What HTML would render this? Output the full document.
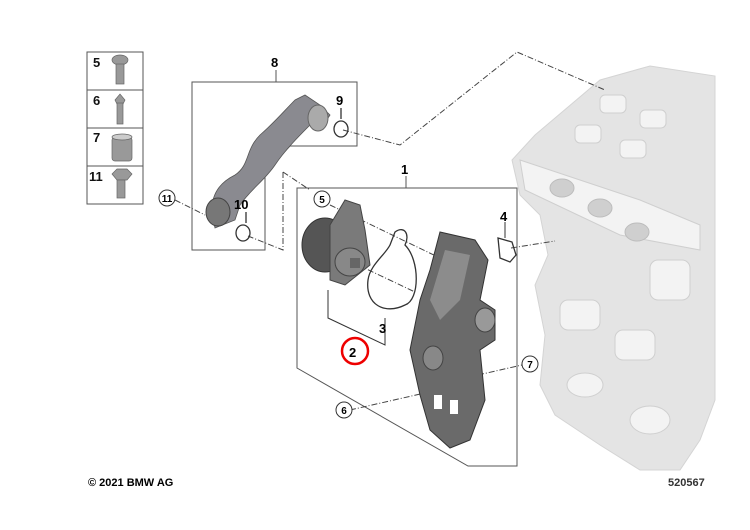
<!DOCTYPE html>
<html><head><style>body{margin:0;background:#fff}svg{display:block}text{font-family:"Liberation Sans",sans-serif;font-weight:bold}</style></head>
<body>
<svg width="750" height="530" viewBox="0 0 750 530" xmlns="http://www.w3.org/2000/svg">
<!-- engine block -->
<path d="M600,80 L650,66 L715,76 L715,400 L700,440 L680,470 L640,470 L600,445 L555,415 L540,385 L545,335 L535,285 L548,255 L540,215 L520,195 L512,160 L535,135 Z" fill="#e4e4e4" stroke="#d4d4d4"/>
<g fill="#f3f3f3" stroke="#cfcfcf">
<path d="M520,160 L640,200 L700,225 L700,250 L620,235 L525,190 Z"/>
<rect x="600" y="95" width="26" height="18" rx="5"/><rect x="640" y="110" width="26" height="18" rx="5"/><rect x="575" y="125" width="26" height="18" rx="5"/><rect x="620" y="140" width="26" height="18" rx="5"/>
<rect x="560" y="300" width="40" height="30" rx="8"/><rect x="615" y="330" width="40" height="30" rx="8"/>
<ellipse cx="585" cy="385" rx="18" ry="12"/><ellipse cx="650" cy="420" rx="20" ry="14"/>
<rect x="650" y="260" width="40" height="40" rx="8"/>
</g>
<g fill="#cfcfcf" stroke="#bdbdbd"><ellipse cx="562" cy="188" rx="12" ry="9"/><ellipse cx="600" cy="208" rx="12" ry="9"/><ellipse cx="637" cy="232" rx="12" ry="9"/></g>
<!-- left table -->
<g fill="none" stroke="#555" stroke-width="1">
<rect x="87" y="52" width="56" height="152"/>
<line x1="87" y1="90" x2="143" y2="90"/><line x1="87" y1="128" x2="143" y2="128"/><line x1="87" y1="166" x2="143" y2="166"/>
</g>
<g font-size="13" fill="#111"><text x="93" y="67">5</text><text x="93" y="105">6</text><text x="93" y="142">7</text><text x="89" y="181">11</text></g>
<g fill="#999" stroke="#666" stroke-width="0.7">
<ellipse cx="120" cy="60" rx="8" ry="5"/><rect x="116" y="64" width="8" height="20"/>
<path d="M115,100 L120,94 L125,100 L123,104 L117,104Z"/><rect x="117" y="103" width="6" height="21"/>
<rect x="112" y="137" width="20" height="24" rx="3"/><ellipse cx="122" cy="137" rx="10" ry="3" fill="#ccc"/>
<path d="M112,174 L117,169 L127,169 L132,174 L127,180 L117,180Z"/><rect x="117" y="180" width="8" height="18"/>
</g>
<!-- boxes -->
<g fill="none" stroke="#555" stroke-width="1">
<path d="M192,82 L357,82 L357,146 L290,146 L265,172 L265,250 L192,250 Z"/>
<line x1="276" y1="70" x2="276" y2="82"/>
<path d="M297,188 L517,188 L517,466 L468,466 L297,368 Z"/>
<line x1="406" y1="176" x2="406" y2="188"/>
</g>
<text x="271" y="67" font-size="13">8</text>
<text x="401" y="174" font-size="13">1</text>
<!-- dash-dot lines -->
<g fill="none" stroke="#444" stroke-width="1" stroke-dasharray="6,2,1,2">
<path d="M343,130 L400,145 L517,52 L605,90"/>
<path d="M283,172 L283,250 L248,236"/>
<path d="M283,172 L310,190"/>
<line x1="175" y1="200" x2="205" y2="215"/>
<line x1="330" y1="205" x2="440" y2="258"/>
<line x1="358" y1="265" x2="415" y2="292"/>
<line x1="511" y1="248" x2="555" y2="241"/>
<line x1="478" y1="375" x2="522" y2="365"/>
<line x1="350" y1="410" x2="438" y2="390"/>
</g>
<!-- pipe 8 -->
<path d="M212,215 C210,190 225,180 235,175 C250,165 245,150 260,135 C275,122 285,110 295,100 L305,95 L320,105 L330,115 L320,130 L310,125 C300,135 285,150 275,165 C265,180 250,190 240,205 L235,220 L215,228 Z" fill="#8a8a90" stroke="#555" stroke-width="0.8"/>
<ellipse cx="318" cy="118" rx="10" ry="13" fill="#aaa" stroke="#666"/>
<ellipse cx="218" cy="212" rx="12" ry="14" fill="#777" stroke="#444"/>
<g fill="none" stroke="#333" stroke-width="1.3"><ellipse cx="341" cy="129" rx="7" ry="8"/><ellipse cx="243" cy="233" rx="7" ry="8"/>
<line x1="341" y1="108" x2="341" y2="119"/><line x1="246" y1="212" x2="246" y2="223"/></g>
<text x="336" y="105" font-size="13">9</text><text x="234" y="209" font-size="13">10</text>
<!-- pump 2 -->
<ellipse cx="325" cy="245" rx="23" ry="27" fill="#555" stroke="#333"/>
<path d="M330,225 L345,200 L360,205 L365,230 L370,265 L345,285 L330,280 Z" fill="#7a7a7a" stroke="#444"/>
<ellipse cx="350" cy="262" rx="15" ry="14" fill="#888" stroke="#444"/>
<rect x="350" y="258" width="10" height="10" fill="#666"/>
<path d="M328,290 L328,318 L385,345 L385,318" fill="none" stroke="#333"/>
<text x="379" y="333" font-size="13">3</text>
<text x="349" y="357" font-size="13">2</text>
<circle cx="355" cy="351" r="13" fill="none" stroke="#e00" stroke-width="2.5"/>
<!-- gasket 3 -->
<path d="M395,232 C405,225 410,235 405,245 C420,260 420,300 405,305 C385,315 365,305 368,280 C370,265 385,255 390,245 Z" fill="none" stroke="#333" stroke-width="1.3"/>
<!-- housing -->
<path d="M440,232 L475,240 L488,260 L480,300 L495,310 L495,340 L480,350 L485,400 L470,440 L450,448 L430,430 L420,395 L410,350 L420,300 L430,270 Z" fill="#6a6a6a" stroke="#333"/>
<path d="M445,250 L470,255 L460,300 L440,320 L430,300 Z" fill="#8c8c8c"/>
<ellipse cx="485" cy="320" rx="10" ry="12" fill="#999" stroke="#444"/>
<ellipse cx="433" cy="358" rx="10" ry="12" fill="#888" stroke="#444"/>
<rect x="434" y="395" width="8" height="14" fill="#fff"/><rect x="450" y="400" width="8" height="14" fill="#fff"/>
<!-- seal 4 -->
<path d="M498,238 L512,242 L516,255 L510,262 L500,258 Z" fill="none" stroke="#333" stroke-width="1.3"/>
<line x1="505" y1="222" x2="505" y2="238" stroke="#333"/>
<text x="500" y="221" font-size="13">4</text>
<!-- circled numbers -->
<g fill="#fff" stroke="#333" stroke-width="1"><circle cx="167" cy="198" r="8"/><circle cx="322" cy="199" r="8"/><circle cx="530" cy="364" r="8"/><circle cx="344" cy="410" r="8"/></g>
<g font-size="10" text-anchor="middle" font-weight="normal"><text x="167" y="202">11</text><text x="322" y="203">5</text><text x="530" y="368">7</text><text x="344" y="414">6</text></g>
<text x="88" y="486" font-size="11">© 2021 BMW AG</text>
<text x="668" y="486" font-size="11" font-weight="normal" fill="#333">520567</text>
</svg>
</body></html>
